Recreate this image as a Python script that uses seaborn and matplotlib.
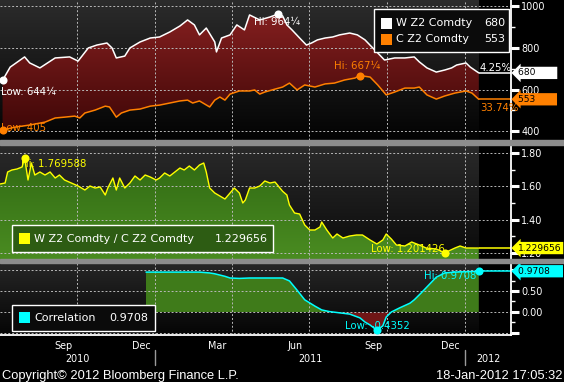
import numpy as np
import pandas as pd
import matplotlib
matplotlib.use("Agg")
import matplotlib.pyplot as plt
import matplotlib.dates as mdates
import matplotlib.colors as mcolors
import matplotlib.transforms as mtransforms
from matplotlib.patches import Rectangle, Polygon
import seaborn as sns

# --- data ---
wheat_dates = ['2010-07-05', '2010-07-14', '2010-07-31', '2010-08-06', '2010-08-18',
               '2010-09-05', '2010-09-22', '2010-10-02', '2010-10-14', '2010-10-24',
               '2010-11-05', '2010-11-11', '2010-11-16', '2010-11-26', '2010-12-02',
               '2010-12-14', '2010-12-26', '2011-01-06', '2011-01-18', '2011-01-30',
               '2011-02-08', '2011-02-16', '2011-02-22', '2011-03-02', '2011-03-12',
               '2011-03-14', '2011-03-20', '2011-03-30', '2011-04-07', '2011-04-16',
               '2011-04-22', '2011-05-04', '2011-05-16', '2011-05-26', '2011-05-31',
               '2011-06-05', '2011-06-11', '2011-06-20', '2011-06-28', '2011-07-04',
               '2011-07-11', '2011-07-20', '2011-07-29', '2011-08-06', '2011-08-18',
               '2011-08-27', '2011-09-05', '2011-09-13', '2011-09-20', '2011-09-28',
               '2011-10-10', '2011-10-22', '2011-11-02', '2011-11-08', '2011-11-17',
               '2011-11-28', '2011-12-08', '2011-12-16', '2011-12-22', '2012-01-02',
               '2012-01-07', '2012-01-17']
wheat = [644.25, 708, 757, 728, 704, 752, 757, 737, 800, 814,
         824, 800, 752, 761, 800, 829, 848, 853, 877, 906,
         935, 911, 863, 896, 829, 781, 848, 863, 911, 887,
         959, 935, 949, 964.25, 954, 911, 887, 848, 814, 824,
         839, 848, 853, 863, 872, 863, 839, 805, 776, 742,
         752, 752, 757, 733, 704, 684, 694, 704, 718, 728,
         708, 680]

corn_dates = ['2010-07-05', '2010-07-20', '2010-08-06', '2010-08-24', '2010-09-05',
              '2010-09-16', '2010-09-28', '2010-10-04', '2010-10-10', '2010-10-22',
              '2010-11-03', '2010-11-08', '2010-11-12', '2010-11-16', '2010-11-22',
              '2010-12-02', '2010-12-14', '2010-12-26', '2011-01-06', '2011-01-18',
              '2011-01-30', '2011-02-08', '2011-02-14', '2011-02-22', '2011-03-06',
              '2011-03-12', '2011-03-18', '2011-03-24', '2011-03-30', '2011-04-10',
              '2011-04-22', '2011-04-28', '2011-05-04', '2011-05-10', '2011-05-22',
              '2011-05-31', '2011-06-08', '2011-06-17', '2011-06-26', '2011-07-08',
              '2011-07-20', '2011-07-31', '2011-08-12', '2011-08-24', '2011-08-30',
              '2011-09-11', '2011-09-20', '2011-09-30', '2011-10-10', '2011-10-22',
              '2011-11-02', '2011-11-08', '2011-11-17', '2011-11-28', '2011-12-08',
              '2011-12-20', '2012-01-02', '2012-01-09', '2012-01-17']
corn = [405, 419, 429, 443, 463, 467, 472, 463, 487, 501,
        520, 516, 492, 467, 487, 501, 506, 520, 525, 535,
        545, 549, 535, 545, 516, 549, 564, 549, 578, 593,
        593, 598, 578, 588, 602, 612, 631, 598, 622, 612,
        627, 631, 646, 655, 667.25, 660, 622, 574, 588, 607,
        607, 612, 574, 554, 569, 583, 593, 583, 553]

ratio_dates = ['2010-07-02', '2010-07-08', '2010-07-11', '2010-07-16', '2010-07-22',
               '2010-07-28', '2010-07-31', '2010-08-04', '2010-08-08', '2010-08-12',
               '2010-08-18', '2010-08-24', '2010-08-30', '2010-09-05', '2010-09-10',
               '2010-09-16', '2010-09-24', '2010-10-02', '2010-10-10', '2010-10-16',
               '2010-10-22', '2010-10-28', '2010-11-03', '2010-11-06', '2010-11-12',
               '2010-11-16', '2010-11-20', '2010-11-26', '2010-12-02', '2010-12-08',
               '2010-12-14', '2010-12-20', '2010-12-26', '2011-01-02', '2011-01-06',
               '2011-01-12', '2011-01-18', '2011-01-24', '2011-01-30', '2011-02-04',
               '2011-02-10', '2011-02-16', '2011-02-22', '2011-02-27', '2011-03-02',
               '2011-03-06', '2011-03-12', '2011-03-18', '2011-03-24', '2011-03-30',
               '2011-04-04', '2011-04-10', '2011-04-14', '2011-04-17', '2011-04-22',
               '2011-04-28', '2011-05-04', '2011-05-10', '2011-05-16', '2011-05-22',
               '2011-05-31', '2011-06-05', '2011-06-08', '2011-06-14', '2011-06-20',
               '2011-06-26', '2011-07-02', '2011-07-08', '2011-07-14', '2011-07-16',
               '2011-07-22', '2011-07-29', '2011-08-03', '2011-08-10', '2011-08-18',
               '2011-08-26', '2011-09-02', '2011-09-11', '2011-09-19', '2011-09-26',
               '2011-09-30', '2011-10-06', '2011-10-12', '2011-10-22', '2011-10-30',
               '2011-11-08', '2011-11-16', '2011-11-28', '2011-12-08', '2011-12-20',
               '2011-12-26', '2012-01-02', '2012-01-07', '2012-01-17']
ratio = [1.614, 1.62, 1.686, 1.698, 1.704, 1.716, 1.769588, 1.638, 1.74, 1.668,
         1.686, 1.668, 1.686, 1.65, 1.668, 1.638, 1.62, 1.602, 1.578, 1.602,
         1.59, 1.596, 1.548, 1.59, 1.65, 1.578, 1.65, 1.59, 1.62, 1.662,
         1.638, 1.668, 1.656, 1.638, 1.65, 1.68, 1.662, 1.686, 1.71, 1.698,
         1.722, 1.698, 1.728, 1.74, 1.686, 1.59, 1.56, 1.542, 1.524, 1.56,
         1.59, 1.56, 1.50, 1.518, 1.59, 1.59, 1.602, 1.632, 1.62, 1.626,
         1.57, 1.548, 1.488, 1.44, 1.434, 1.368, 1.338, 1.338, 1.356, 1.386,
         1.338, 1.29, 1.314, 1.29, 1.302, 1.308, 1.308, 1.278, 1.254, 1.278,
         1.314, 1.284, 1.248, 1.242, 1.266, 1.248, 1.23, 1.224, 1.201426, 1.23,
         1.242, 1.23, 1.23, 1.229656]

corr_dates = ['2010-12-21', '2011-02-22', '2011-02-28', '2011-03-06', '2011-03-12',
              '2011-03-18', '2011-03-24', '2011-03-30', '2011-04-10', '2011-04-22',
              '2011-05-31', '2011-06-08', '2011-06-17', '2011-06-26', '2011-07-08',
              '2011-07-16', '2011-07-25', '2011-08-06', '2011-08-18', '2011-08-30',
              '2011-09-05', '2011-09-11', '2011-09-19', '2011-09-26', '2011-09-30',
              '2011-10-06', '2011-10-16', '2011-10-28', '2011-11-02', '2011-11-10',
              '2011-11-19', '2011-11-28', '2011-12-08', '2011-12-20', '2012-01-02',
              '2012-01-17']
corr = [0.95, 0.95, 0.94, 0.93, 0.91, 0.88, 0.85, 0.81, 0.80, 0.81,
        0.81, 0.74, 0.52, 0.29, 0.14, 0.05, 0.01, -0.02, -0.05, -0.14,
        -0.24, -0.31, -0.4352, -0.33, -0.12, 0.0, 0.10, 0.21, 0.29, 0.45,
        0.64, 0.83, 0.93, 0.95, 0.96, 0.9708]

series_names = ['W Z2 Comdty', 'C Z2 Comdty', 'W Z2 Comdty / C Z2 Comdty', 'Correlation']
change_labels = ['4.25%', '33.74%']

W, H = 564, 382
WHITE, ORANGE, YELLOW, CYAN = '#ffffff', '#ff8000', '#ffff00', '#00ffff'
FONT = 'DejaVu Sans'

sns.set_theme(style="dark")
plt.rcParams['font.family'] = ['DejaVu Sans']

x0, x1 = pd.Timestamp('2010-07-02'), pd.Timestamp('2012-02-24')
x0n, x1n = mdates.date2num(x0), mdates.date2num(x1)
wx = mdates.date2num(pd.to_datetime(wheat_dates))
cx = mdates.date2num(pd.to_datetime(corn_dates))
rx = mdates.date2num(pd.to_datetime(ratio_dates))
kx = mdates.date2num(pd.to_datetime(corr_dates))
wheat, corn, ratio, corr = map(np.array, (wheat, corn, ratio, corr))
last = wx[-1]

fig = plt.figure(figsize=(W / 100, H / 100), dpi=100, facecolor='black')


def panel(top, bottom):
    return fig.add_axes([0, 1 - bottom / H, 511 / W, (bottom - top) / H])


ax1, ax2, ax3 = panel(0, 140), panel(145, 259), panel(263, 335)
for a, b in ((140, 145), (259, 263)):
    fig.patches.append(Rectangle((0, 1 - b / H), 1, (b - a) / H, transform=fig.transFigure,
                                 color='#8c8c8c', zorder=5))


def style(ax, ylim, major, labels, minor):
    ax.set_facecolor('black')
    ax.xaxis_date()
    ax.set_xlim(x0n, x1n)
    ax.set_ylim(*ylim)
    ax.yaxis.tick_right()
    ax.set_yticks(major, labels)
    ax.set_yticks(minor, minor=True)
    ax.tick_params(axis='y', which='major', direction='out', length=6, width=2.2,
                   color='white', labelcolor='white', labelsize=6.9, pad=1.5)
    ax.tick_params(axis='y', which='minor', direction='out', length=3, width=1, color='white')
    ax.xaxis.set_major_locator(mdates.MonthLocator(bymonth=[1, 4, 7, 10]))
    ax.xaxis.set_minor_locator(mdates.MonthLocator())
    ax.tick_params(axis='x', which='both', length=0, labelbottom=False)
    ax.grid(True, which='major', color='#b8b8b8', linestyle=(0, (2, 2)), linewidth=0.7)
    ax.set_axisbelow('line')
    for side in ('top', 'left', 'bottom'):
        ax.spines[side].set_visible(False)
    ax.spines['right'].set_color('white')
    ax.spines['right'].set_linewidth(1.3)
    ax.set_xlabel('')
    ax.set_ylabel('')


def gradient(ax, top, bottom, xa, xb, clip=None, z=0):
    c0, c1 = np.array(mcolors.to_rgb(top)), np.array(mcolors.to_rgb(bottom))
    t = np.linspace(0, 1, 128)[:, None]
    img = (c0 * (1 - t) + c1 * t)[:, None, :]
    ya, yb = ax.get_ylim()
    im = ax.imshow(img, extent=[xa, xb, ya, yb], origin='upper', aspect='auto',
                   interpolation='bilinear', zorder=z)
    if clip is not None:
        im.set_clip_path(clip)
    return im


def price(v):
    whole = int(v)
    return f"{whole}" + {0.25: '¼', 0.5: '½', 0.75: '¾'}.get(round(v - whole, 2), '')


def tag(ax, val, text, fc):
    ax.annotate(f"{text}", xy=(1, val), xycoords=('axes fraction', 'data'),
                xytext=(7, 0), textcoords='offset pixels', ha='left', va='center',
                fontsize=6.6, family=FONT, color='black', annotation_clip=False, zorder=10,
                bbox=dict(boxstyle='larrow,pad=0.18', fc=fc, ec='none'))


def dot(ax, x, y, color):
    ax.scatter([x], [y], s=34, color=color, zorder=6, clip_on=False, linewidths=0)


def note(ax, x, y, text, color, dx, dy, ha='left'):
    ax.annotate(text, xy=(x, y), xytext=(dx, dy), textcoords='offset pixels',
                ha=ha, va='center', color=color, fontsize=7.3, family=FONT, zorder=5)


# ---- top panel: wheat & corn ----
ylim1 = (357, 1031)
style(ax1, ylim1, [400, 600, 800, 1000], ['400', '600', '800', '1000'], [500, 700, 900])
gradient(ax1, '#2c2c2c', '#030303', x0n, last)
band = Polygon(np.column_stack([np.r_[wx, cx[::-1]], np.r_[wheat, corn[::-1]]]),
               closed=True, fc='none', ec='none')
ax1.add_patch(band)
gradient(ax1, '#8c2222', '#3a0505', x0n, last, clip=band, z=0.8)
sns.lineplot(x=wx, y=wheat, ax=ax1, color=WHITE, lw=1.1, zorder=3)
sns.lineplot(x=cx, y=corn, ax=ax1, color=ORANGE, lw=1.1, zorder=3)
ax1.hlines(wheat[-1], last, x1n, color=WHITE, lw=1.1)
ax1.hlines(corn[-1], last, x1n, color=ORANGE, lw=1.1)

i = wheat.argmin(); dot(ax1, wx[i], wheat[i], WHITE)
note(ax1, wx[i], wheat[i], f"Low: {price(wheat[i])}", WHITE, -2, -12)
i = wheat.argmax(); dot(ax1, wx[i], wheat[i], WHITE)
note(ax1, wx[i], wheat[i], f"Hi: {price(wheat[i])}", WHITE, -24, -8)
i = corn.argmin(); dot(ax1, cx[i], corn[i], ORANGE)
note(ax1, cx[i], corn[i], f"Low: {price(corn[i])}", ORANGE, -2, 2)
i = corn.argmax(); dot(ax1, cx[i], corn[i], ORANGE)
note(ax1, cx[i], corn[i], f"Hi: {price(corn[i])}", ORANGE, -26, 10)
note(ax1, last, wheat[-1], change_labels[0], WHITE, 1, 5)
note(ax1, last, corn[-1], change_labels[1], ORANGE, 1, -9)
tag(ax1, wheat[-1], f"{wheat[-1]:.0f}       ", WHITE)
tag(ax1, corn[-1], f"{corn[-1]:.0f}       ", ORANGE)
ax1.set_xlim(x0n, x1n); ax1.set_ylim(*ylim1)

# ---- middle panel: ratio ----
ylim2 = (1.164, 1.848)
style(ax2, ylim2, [1.2, 1.4, 1.6, 1.8], ['1.20', '1.40', '1.60', '1.80'], [1.3, 1.5, 1.7])
gradient(ax2, '#2a2a2a', '#0a0a0a', x0n, last)
area = Polygon(np.column_stack([np.r_[rx, last, rx[0]], np.r_[ratio, ylim2[0], ylim2[0]]]),
               closed=True, fc='none', ec='none')
ax2.add_patch(area)
gradient(ax2, '#2e6612', '#4a8c21', x0n, last, clip=area, z=0.8)
sns.lineplot(x=rx, y=ratio, ax=ax2, color=YELLOW, lw=1.0, zorder=3)
ax2.hlines(ratio[-1], last, x1n, color=YELLOW, lw=1.1)
i = ratio.argmax(); note(ax2, rx[i], ratio[i], f"Hi: {ratio[i]:.6f}", YELLOW, -4, -6)
dot(ax2, rx[i], ratio[i], YELLOW)
i = ratio.argmin(); note(ax2, rx[i], ratio[i], f"Low: {ratio[i]:.6f}", YELLOW, 0, 4, ha='right')
dot(ax2, rx[i], ratio[i], YELLOW)
tag(ax2, ratio[-1], f"{ratio[-1]:.6f}", YELLOW)
ax2.set_xlim(x0n, x1n); ax2.set_ylim(*ylim2)

# ---- bottom panel: correlation ----
ylim3 = (-0.548, 1.167)
style(ax3, ylim3, [-0.5, 0, 0.5, 1.0], ['', '0.00', '0.50', ''], [-0.25, 0.25, 0.75])
gradient(ax3, '#262626', '#050505', x0n, last)
ax3.fill_between(kx, corr, 0, where=corr >= 0, interpolate=True, color='#3f7b1a', lw=0, zorder=1)
ax3.fill_between(kx, corr, 0, where=corr <= 0, interpolate=True, color='#701616', lw=0, zorder=1)
sns.lineplot(x=kx, y=corr, ax=ax3, color=CYAN, lw=1.1, zorder=3)
ax3.hlines(corr[-1], last, x1n, color=CYAN, lw=1.1)
i = corr.argmax(); note(ax3, kx[i], corr[i], f"Hi: {corr[i]:.4f}", CYAN, -2, -5, ha='right')
dot(ax3, kx[i], corr[i], CYAN)
i = corr.argmin(); note(ax3, kx[i], corr[i], f"Low: {corr[i]:.4f}", CYAN, -32, 4)
dot(ax3, kx[i], corr[i], CYAN)
tag(ax3, corr[-1], f"{corr[-1]:.4f}    ", CYAN)
ax3.set_xlim(x0n, x1n); ax3.set_ylim(*ylim3)
ax3.spines['bottom'].set_visible(True)
ax3.spines['bottom'].set_color('white')
ax3.spines['bottom'].set_linewidth(1.3)
ax3.tick_params(axis='x', which='both', length=4, width=1, color='white', direction='out')

# month / year labels under the axis
below = mtransforms.blended_transform_factory(ax3.transData, ax3.transAxes)
for m in pd.date_range(x0, x1, freq='MS'):
    if m.month in (3, 6, 9, 12):
        ax3.text(mdates.date2num(m + pd.Timedelta(days=14)), -0.155, m.strftime('%b'),
                 transform=below, ha='center', va='center', color='white', fontsize=6.9,
                 family=FONT, clip_on=False)
for yr in (2010, 2011, 2012):
    a = max(x0, pd.Timestamp(f'{yr}-01-01'))
    b = min(x1, pd.Timestamp(f'{yr + 1}-01-01'))
    ax3.text(mdates.date2num(a + (b - a) / 2), -0.335, str(yr), transform=below,
             ha='center', va='center', color='white', fontsize=6.9, family=FONT, clip_on=False)
    if yr > 2010:
        xs = mdates.date2num(pd.Timestamp(f'{yr}-01-01'))
        ax3.plot([xs, xs], [-0.21, -0.42], transform=below, color='#9a9a9a', lw=1, clip_on=False)

# ---- legends and footer drawn in pixel space ----
ov = fig.add_axes([0, 0, 1, 1], zorder=20)
ov.set_xlim(0, W)
ov.set_ylim(H, 0)
ov.axis('off')
ov.patch.set_alpha(0)

ov.add_patch(Rectangle((374, 9), 135, 43, fc='#0b0b0b', ec='white', lw=1))
for row, (name, val, col) in enumerate(((series_names[0], wheat[-1], WHITE),
                                        (series_names[1], corn[-1], ORANGE))):
    yc = 23 + row * 16.5
    ov.add_patch(Rectangle((381, yc - 5.5), 11, 11, fc=col, ec='none'))
    ov.text(396, yc, name, color='white', fontsize=8, family=FONT, va='center')
    ov.text(505, yc, f"{val:.0f}", color='white', fontsize=8, family=FONT, va='center', ha='right')

ov.add_patch(Rectangle((12, 225), 261, 27, fc='#2d5c13', ec='white', lw=1))
ov.add_patch(Rectangle((19, 233), 11, 11, fc=YELLOW, ec='none'))
ov.text(34, 239, series_names[2], color='white', fontsize=8, family=FONT, va='center')
ov.text(268, 239, f"{ratio[-1]:.6f}", color='white', fontsize=8, family=FONT, va='center', ha='right')

ov.add_patch(Rectangle((12, 305), 143, 26, fc='#0b0b0b', ec='white', lw=1))
ov.add_patch(Rectangle((19, 312), 11, 11, fc=CYAN, ec='none'))
ov.text(34, 318, series_names[3], color='white', fontsize=8, family=FONT, va='center')
ov.text(148, 318, f"{corr[-1]:.4f}", color='white', fontsize=8, family=FONT, va='center', ha='right')

ov.text(2, 376, 'Copyright© 2012 Bloomberg Finance L.P.', color='white', fontsize=9.3,
        family='Liberation Sans', va='center')
ov.text(562, 376, '18-Jan-2012 17:05:32', color='white', fontsize=9.3,
        family='Liberation Sans', va='center', ha='right')

fig.savefig('out.png', dpi=100, facecolor='black')
